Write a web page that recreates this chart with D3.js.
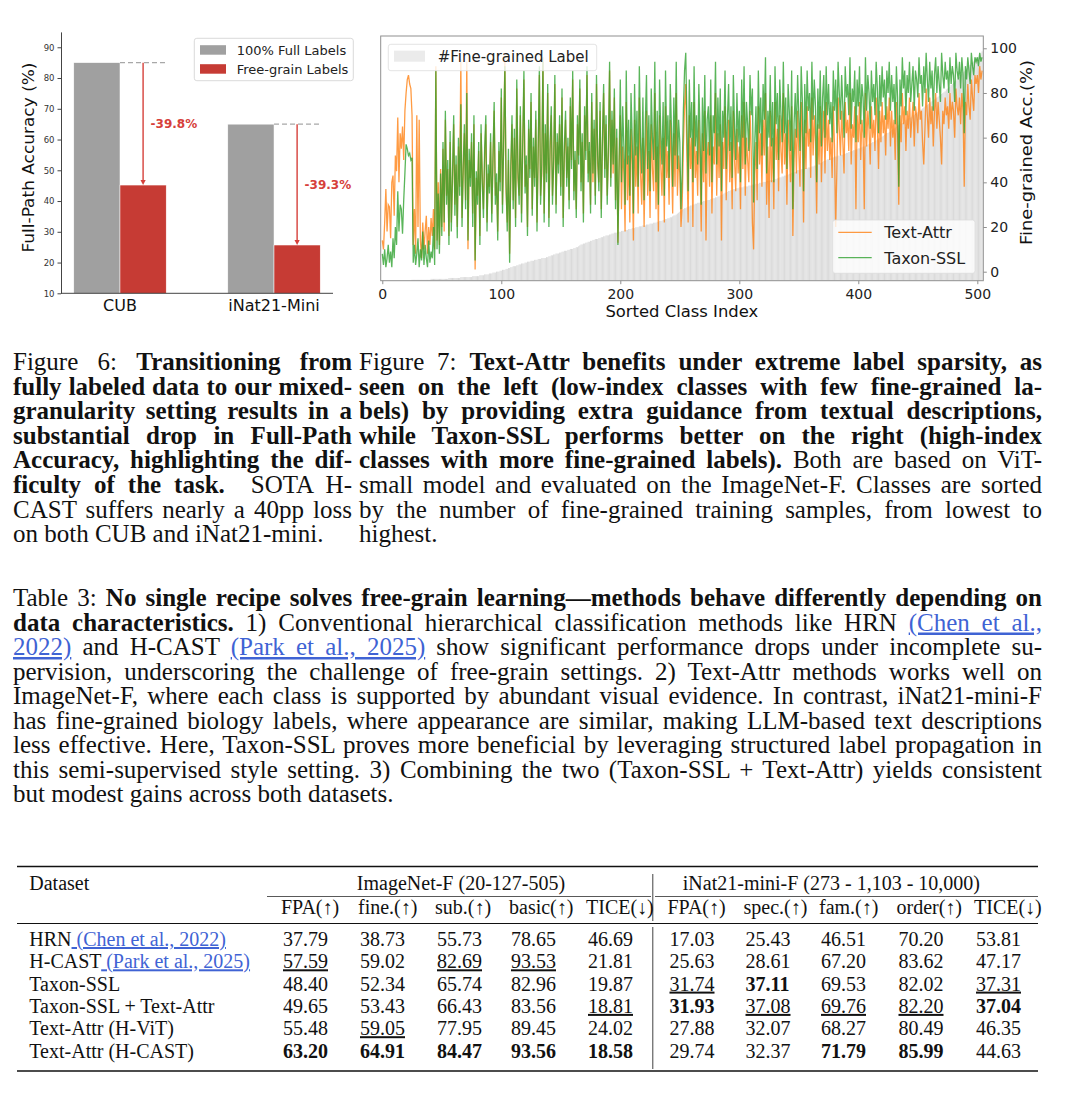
<!DOCTYPE html>
<html>
<head>
<meta charset="utf-8">
<script src="https://cdn.jsdelivr.net/npm/d3@7"></script>
<style>
  body { margin: 0; background: #fff; }
  .sans { font-family: "DejaVu Sans", sans-serif; }
  .serif { font-family: "Liberation Serif", "Times New Roman", serif; }
</style>
</head>
<body>
<svg id="page" width="1080" height="1113"></svg>
<script>
// ---- Figure 6 data ----
const datasets = ['CUB', 'iNat21-Mini'];
const fullLabels = [85.0, 65.0];
const freeGrain = [45.2, 25.7];
const dropLabels = ['-39.8%', '-39.3%'];
const accTicks6 = [10, 20, 30, 40, 50, 60, 70, 80, 90];

// ---- Figure 7 data (505 ImageNet-F fine classes, sorted by #fine labels) ----
const textAttr = [
  14,10,22,37,18,30,29,15,40,43,25,52,45,69,40,62,55,65,50,72,80,86,88,84,82,
  70,12,28,8,70,20,68,14,6,22,10,18,25,8,20,12,24,16,28,10,92,14,40,12,46,
  20,55,18,68,34,46,16,58,22,40,66,30,48,20,56,38,95,24,44,62,32,94,10,50,42,
  58,26,66,1,42,34,54,16,62,44,28,50,66,22,44,38,58,26,48,72,34,40,18,54,40,
  78,30,56,96,36,22,50,8,44,66,32,60,24,82,42,34,70,26,54,86,38,48,20,64,46,
  76,28,56,42,68,22,52,88,34,44,96,26,62,44,80,24,54,70,34,46,84,30,58,48,66,
  38,78,24,52,68,42,56,32,74,50,86,36,50,28,66,52,82,40,58,26,70,54,88,44,54,
  30,76,40,64,34,84,48,40,72,28,56,80,46,66,34,52,90,42,68,44,78,32,60,13,46,
  70,28,56,44,18,76,32,52,22,64,48,14,68,38,56,26,78,44,30,60,20,50,72,34,54,
  24,66,46,36,80,28,56,18,70,48,34,60,22,74,42,54,30,68,50,26,62,38,80,34,52,
  44,20,30,56,74,84,50,22,70,46,60,20,76,42,54,34,68,48,18,62,40,72,14,52,58,
  38,70,26,56,48,80,34,62,42,66,14,58,46,74,32,52,68,40,58,28,72,50,36,64,44,
  56,28,70,46,76,34,60,50,40,72,54,22,10,44,58,32,74,48,62,38,68,52,80,30,56,
  24,72,40,60,28,76,50,64,36,70,54,44,80,48,62,30,68,56,40,74,16,50,64,44,72,
  54,38,76,60,22,68,46,74,56,64,42,78,52,70,58,26,66,48,74,40,62,72,44,76,54,
  68,50,60,42,74,56,20,46,78,64,52,72,58,44,76,62,68,54,80,48,66,60,74,28,70,
  58,76,50,68,62,28,80,56,72,64,48,74,60,68,54,78,66,46,72,58,76,62,70,52,74,
  64,78,56,72,60,68,50,76,62,30,70,58,80,66,74,54,72,64,78,60,68,76,56,74,70,
  62,80,68,72,58,48,64,82,70,60,78,66,74,56,72,80,64,76,68,60,48,72,66,78,70,
  74,64,80,68,76,72,60,82,74,70,78,66,80,72,38,76,70,84,74,68,86,78,72,88,84,
  88,80,92,86,90
];
const taxonSSL = [
  8,3,10,2,6,12,4,9,2,15,6,20,12,36,18,30,28,17,32,44,57,55,52,53,50,
  51,4,12,3,8,15,2,10,5,18,3,12,6,2,14,4,9,6,20,3,90,10,35,8,44,
  16,58,22,72,30,50,12,63,18,44,70,25,52,15,60,34,75,20,48,66,28,80,14,55,38,
  62,20,70,5,45,30,58,12,66,40,24,55,70,18,48,35,62,22,52,76,30,44,14,58,36,
  82,26,60,92,40,18,55,4,48,70,28,64,20,86,45,30,74,22,58,90,35,52,16,68,42,
  80,25,60,38,72,18,56,92,30,48,94,22,66,40,84,20,58,74,30,50,88,26,62,44,70,
  34,82,20,56,72,38,60,28,78,46,90,32,54,24,70,48,86,36,62,22,74,50,92,40,58,
  26,80,44,68,30,88,52,36,76,24,60,84,42,70,30,56,94,38,72,48,82,28,64,12,50,
  86,40,74,56,30,90,48,68,34,80,60,26,84,52,72,38,92,58,44,78,32,66,88,46,70,
  36,82,60,50,94,40,72,30,86,62,48,76,34,90,56,70,42,84,64,38,78,52,94,46,68,
  58,28,44,72,90,98,66,36,86,60,76,40,92,56,70,48,84,62,30,78,54,88,44,68,74,
  52,86,40,70,62,94,48,78,56,82,36,72,60,90,46,68,84,54,74,42,88,64,50,80,58,
  72,40,86,60,92,48,76,66,54,88,70,82,31,58,74,46,90,62,78,52,84,68,96,44,72,
  60,88,56,76,40,92,66,80,50,86,70,58,94,62,78,46,84,72,54,90,28,66,80,60,88,
  70,54,92,76,36,84,62,90,72,80,58,94,68,86,74,40,82,64,90,56,78,88,60,92,70,
  84,66,76,58,90,72,86,62,94,80,68,88,74,60,92,78,84,70,96,64,82,76,90,58,86,
  74,92,66,84,78,60,96,72,88,80,64,90,76,84,70,94,82,62,88,74,92,78,86,68,90,
  80,94,72,88,76,84,66,92,78,38,86,74,96,82,90,70,88,80,94,76,84,92,72,90,86,
  78,96,84,88,74,92,80,98,86,76,94,82,90,72,88,96,80,92,84,76,98,88,82,94,86,
  90,80,96,84,92,88,76,98,90,86,94,82,96,88,62,92,86,96,90,84,98,92,88,96,94,
  96,92,98,94,96
];
const fineCounts = [
  0,0,0,0,0,0,0,0,0,0,0,0,0,0,0,0,0,0,0,0,0,0,0,0,0,
  1,1,1,1,1,1,1,1,1,1,1,1,1,1,1,1,2,2,2,2,2,2,2,2,2,
  2,2,2,2,2,2,3,3,3,3,3,3,3,3,3,3,4,4,4,4,4,4,4,4,4,
  4,5,5,5,5,5,5,6,6,6,6,7,7,7,7,8,8,8,9,9,9,10,10,10,11,
  11,12,12,12,13,13,14,14,15,15,16,16,16,17,17,18,18,19,19,19,20,20,21,21,21,
  22,22,22,23,23,23,24,24,24,25,25,25,25,26,26,27,27,28,28,29,29,30,30,30,31,
  31,32,32,33,33,33,34,34,35,35,35,36,36,37,37,38,39,40,40,41,41,42,42,43,43,
  44,44,45,45,46,46,46,47,47,48,48,49,49,50,50,50,51,51,52,52,53,53,53,54,54,
  54,55,55,55,56,56,56,57,57,57,58,58,58,59,59,59,60,60,60,61,61,61,62,62,62,
  63,63,63,64,64,64,65,65,66,66,66,67,67,68,68,69,69,70,70,71,72,72,73,74,75,
  76,77,78,79,80,80,81,82,82,83,83,84,84,85,85,86,86,86,87,87,88,88,88,89,89,
  89,90,90,91,91,92,92,93,93,94,95,95,96,97,97,98,99,99,100,100,101,101,102,102,102,
  103,103,103,103,104,104,104,104,105,105,105,106,106,106,107,107,107,108,108,108,109,109,109,110,110,
  110,111,111,111,112,112,112,113,113,114,114,115,115,116,116,117,117,118,118,119,119,120,120,121,122,
  122,122,123,123,123,124,124,124,125,125,125,126,126,127,127,128,128,129,130,130,131,132,132,133,134,
  134,135,135,136,136,137,137,137,138,138,139,139,139,140,140,141,141,142,142,143,143,144,144,145,145,
  146,146,147,147,148,148,149,149,150,151,151,152,153,153,154,155,156,157,157,158,159,160,161,162,163,
  163,164,165,166,167,168,169,170,171,172,173,173,174,175,176,177,178,179,180,180,181,182,183,184,185,
  186,187,188,189,190,191,192,193,194,195,196,197,198,199,200,201,202,203,204,205,206,207,208,209,211,
  212,213,214,216,217,218,220,221,222,224,225,227,228,230,231,232,234,235,236,238,239,241,242,244,245,
  246,247,249,251,253
];
const classTicks = [0, 100, 200, 300, 400, 500];
const accTicks7 = [0, 20, 40, 60, 80, 100];

// ---- Table 3 data ----
const groupNames = ['ImageNet-F (20-127-505)', 'iNat21-mini-F (273 - 1,103 - 10,000)'];
const metricNames = ['FPA(↑)', 'fine.(↑)', 'sub.(↑)', 'basic(↑)', 'TICE(↓)',
                     'FPA(↑)', 'spec.(↑)', 'fam.(↑)', 'order(↑)', 'TICE(↓)'];
const methodNames = [['HRN', ' (Chen et al., 2022)'], ['H-CAST', ' (Park et al., 2025)'],
                     ['Taxon-SSL', ''], ['Taxon-SSL + Text-Attr', ''],
                     ['Text-Attr (H-ViT)', ''], ['Text-Attr (H-CAST)', '']];
const tableValues = [
  [37.79, 38.73, 55.73, 78.65, 46.69, 17.03, 25.43, 46.51, 70.20, 53.81],
  [57.59, 59.02, 82.69, 93.53, 21.81, 25.63, 28.61, 67.20, 83.62, 47.17],
  [48.40, 52.34, 65.74, 82.96, 19.87, 31.74, 37.11, 69.53, 82.02, 37.31],
  [49.65, 53.43, 66.43, 83.56, 18.81, 31.93, 37.08, 69.76, 82.20, 37.04],
  [55.48, 59.05, 77.95, 89.45, 24.02, 27.88, 32.07, 68.27, 80.49, 46.35],
  [63.20, 64.91, 84.47, 93.56, 18.58, 29.74, 32.37, 71.79, 85.99, 44.63]
];
// b = best (bold), u = second best (underline)
const tableMarks = [
  ['', '', '', '', '', '', '', '', '', ''],
  ['u', '', 'u', 'u', '', '', '', '', '', ''],
  ['', '', '', '', '', 'u', 'b', '', '', 'u'],
  ['', '', '', '', 'u', 'b', 'u', 'u', 'u', 'b'],
  ['', 'u', '', '', '', '', '', '', '', ''],
  ['b', 'b', 'b', 'b', 'b', '', '', 'b', 'b', '']
];

// ---- captions ----
const fig6Caption = [
  [['Figure 6: ', 'r'], ['Transitioning from', 'b']],
  [['fully labeled data to our mixed-', 'b']],
  [['granularity setting results in a', 'b']],
  [['substantial drop in Full-Path', 'b']],
  [['Accuracy, highlighting the dif-', 'b']],
  [['ficulty of the task.', 'b'], ['  SOTA H-', 'r']],
  [['CAST suffers nearly a 40pp loss', 'r']],
  [['on both CUB and iNat21-mini.', 'r']]
];
const fig7Caption = [
  [['Figure 7: ', 'r'], ['Text-Attr benefits under extreme label sparsity, as', 'b']],
  [['seen on the left (low-index classes with few fine-grained la-', 'b']],
  [['bels) by providing extra guidance from textual descriptions,', 'b']],
  [['while Taxon-SSL performs better on the right (high-index', 'b']],
  [['classes with more fine-grained labels).', 'b'], [' Both are based on ViT-', 'r']],
  [['small model and evaluated on the ImageNet-F. Classes are sorted', 'r']],
  [['by the number of fine-grained training samples, from lowest to', 'r']],
  [['highest.', 'r']]
];
const table3Caption = [
  [['Table 3: ', 'r'], ['No single recipe solves free-grain learning—methods behave differently depending on', 'b']],
  [['data characteristics.', 'b'], [' 1) Conventional hierarchical classification methods like HRN ', 'r'], ['(Chen et al.,', 'l']],
  [['2022)', 'l'], [' and H-CAST ', 'r'], ['(Park et al., 2025)', 'l'], [' show significant performance drops under incomplete su-', 'r']],
  [['pervision, underscoring the challenge of free-grain settings. 2) Text-Attr methods works well on', 'r']],
  [['ImageNet-F, where each class is supported by abundant visual evidence. In contrast, iNat21-mini-F', 'r']],
  [['has fine-grained biology labels, where appearance are similar, making LLM-based text descriptions', 'r']],
  [['less effective. Here, Taxon-SSL proves more beneficial by leveraging structured label propagation in', 'r']],
  [['this semi-supervised style setting. 3) Combining the two (Taxon-SSL + Text-Attr) yields consistent', 'r']],
  [['but modest gains across both datasets.', 'r']]
];

const LINK = '#3f63d4';
const svg = d3.select('#page');

// =================== Figure 6: bar chart ===================
const L = {left: 61, right: 333, top: 31.9, bottom: 293.3};
const xb = d3.scaleLinear().domain([-0.383, 1.383]).range([L.left, L.right]);
const yb = d3.scaleLinear().domain([10, 95]).range([L.bottom, L.top]);
const bw = 0.3;
const f6 = svg.append('g').attr('class', 'sans');

f6.selectAll('.full').data(fullLabels).join('rect')
  .attr('class', 'full')
  .attr('x', (d, i) => xb(i - bw)).attr('width', xb(bw) - xb(0))
  .attr('y', d => yb(d)).attr('height', d => yb(10) - yb(d))
  .attr('fill', '#a0a0a0').attr('stroke', '#fff').attr('stroke-width', 0.5);
f6.selectAll('.free').data(freeGrain).join('rect')
  .attr('class', 'free')
  .attr('x', (d, i) => xb(i)).attr('width', xb(bw) - xb(0))
  .attr('y', d => yb(d)).attr('height', d => yb(10) - yb(d))
  .attr('fill', '#c63b34').attr('stroke', '#fff').attr('stroke-width', 0.5);

// dashed reference at the full-label level
f6.selectAll('.ref').data(fullLabels).join('line')
  .attr('x1', (d, i) => xb(i)).attr('x2', (d, i) => xb(i + bw))
  .attr('y1', d => yb(d)).attr('y2', d => yb(d))
  .attr('stroke', '#a8a8a8').attr('stroke-width', 1.3).attr('stroke-dasharray', '5,3');

// drop arrows
const arrowX = i => xb(i + bw / 2);
f6.selectAll('.arr').data(fullLabels).join('line')
  .attr('x1', (d, i) => arrowX(i)).attr('x2', (d, i) => arrowX(i))
  .attr('y1', d => yb(d)).attr('y2', (d, i) => yb(freeGrain[i]) - 4)
  .attr('stroke', '#d6403a').attr('stroke-width', 1.4);
f6.selectAll('.head').data(freeGrain).join('path')
  .attr('d', (d, i) => {
    const x = arrowX(i), y = yb(d);
    return `M${x - 2.6},${y - 5}L${x + 2.6},${y - 5}L${x},${y}Z`;
  })
  .attr('fill', '#d6403a');
f6.selectAll('.drop').data(dropLabels).join('text')
  .attr('x', (d, i) => arrowX(i) + 7.5)
  .attr('y', (d, i) => (yb(fullLabels[i]) + yb(freeGrain[i])) / 2)
  .attr('dy', '0.36em')
  .attr('fill', '#d6403a').attr('font-weight', 'bold').attr('font-size', 12)
  .text(d => d);

// axes
const yAxis6 = f6.append('g').attr('transform', `translate(${L.left},0)`)
  .call(d3.axisLeft(yb).tickValues(accTicks6).tickSize(3.5).tickSizeOuter(0).tickPadding(3));
yAxis6.select('.domain').attr('stroke', '#444');
yAxis6.selectAll('.tick line').attr('stroke', '#444');
yAxis6.selectAll('.tick text').attr('font-size', 8.5).attr('fill', '#333')
  .attr('font-family', '"DejaVu Sans", sans-serif');
f6.append('line').attr('x1', L.left).attr('x2', L.right)
  .attr('y1', L.bottom).attr('y2', L.bottom).attr('stroke', '#444');
f6.selectAll('.xcat').data(datasets).join('text')
  .attr('x', (d, i) => xb(i)).attr('y', 311)
  .attr('text-anchor', 'middle').attr('font-size', 16).attr('fill', '#111')
  .text(d => d);
f6.append('text')
  .attr('transform', 'translate(34,157.5) rotate(-90)')
  .attr('text-anchor', 'middle').attr('font-size', 15).attr('fill', '#111')
  .attr('textLength', 190).attr('lengthAdjust', 'spacingAndGlyphs')
  .text('Full-Path Accuracy (%)');

// legend
const lg6 = f6.append('g');
lg6.append('rect').attr('x', 194.3).attr('y', 38.3).attr('width', 159).attr('height', 42.4)
  .attr('rx', 2.5).attr('fill', '#fff').attr('stroke', '#d0d0d0').attr('stroke-width', 0.8);
const lg6Items = [{name: '100% Full Labels', color: '#a0a0a0'}, {name: 'Free-grain Labels', color: '#c63b34'}];
lg6.selectAll('.lp').data(lg6Items).join('rect')
  .attr('x', 200).attr('y', (d, i) => 45.2 + i * 19).attr('width', 26).attr('height', 9.5)
  .attr('fill', d => d.color);
lg6.selectAll('.lt').data(lg6Items).join('text')
  .attr('x', 236.7).attr('y', (d, i) => 54.6 + i * 19)
  .attr('font-size', 13).attr('fill', '#222').text(d => d.name);

// =================== Figure 7: line chart ===================
const P = {left: 380.7, right: 983.3, top: 36, bottom: 280.7};
const xs = d3.scaleLinear().domain([-1.34, 505.03]).range([P.left, P.right]);
const ys = d3.scaleLinear().domain([-4.03, 105.5]).range([P.bottom, P.top]);
const yc = d3.scaleLinear().domain([0, 270]).range([P.bottom, P.top]);
const f7 = svg.append('g').attr('class', 'sans');
f7.append('clipPath').attr('id', 'plot7').append('rect')
  .attr('x', P.left).attr('y', P.top).attr('width', P.right - P.left).attr('height', P.bottom - P.top);
const inner = f7.append('g').attr('clip-path', 'url(#plot7)');

inner.selectAll('.cnt').data(fineCounts).join('rect')
  .attr('x', (d, i) => xs(i - 0.42)).attr('width', xs(0.84) - xs(0))
  .attr('y', d => yc(d)).attr('height', d => P.bottom - yc(d))
  .attr('fill', '#d3d3d3').attr('opacity', 0.85);

const line7 = d3.line().x((d, i) => xs(i)).y(d => ys(d));
inner.append('path').datum(textAttr).attr('d', line7)
  .attr('fill', 'none').attr('stroke', '#ff7f0e').attr('stroke-width', 1.3).attr('opacity', 0.78);
inner.append('path').datum(taxonSSL).attr('d', line7)
  .attr('fill', 'none').attr('stroke', '#2ca02c').attr('stroke-width', 1.3).attr('opacity', 0.78);

f7.append('rect').attr('x', P.left).attr('y', P.top)
  .attr('width', P.right - P.left).attr('height', P.bottom - P.top)
  .attr('fill', 'none').attr('stroke', '#8f8f8f').attr('stroke-width', 1);

const xAxis7 = f7.append('g').attr('transform', `translate(0,${P.bottom})`)
  .call(d3.axisBottom(xs).tickValues(classTicks).tickSize(3.5).tickSizeOuter(0));
xAxis7.select('.domain').remove();
xAxis7.selectAll('.tick line').attr('stroke', '#8f8f8f');
xAxis7.selectAll('.tick text').attr('font-size', 14).attr('fill', '#222')
  .attr('font-family', '"DejaVu Sans", sans-serif').attr('dy', null).attr('y', 18.6);

const yAxis7 = f7.append('g').attr('transform', `translate(${P.right},0)`)
  .call(d3.axisRight(ys).tickValues(accTicks7).tickSize(3.5).tickSizeOuter(0).tickPadding(3.5));
yAxis7.select('.domain').remove();
yAxis7.selectAll('.tick line').attr('stroke', '#8f8f8f');
yAxis7.selectAll('.tick text').attr('font-size', 14).attr('fill', '#222')
  .attr('font-family', '"DejaVu Sans", sans-serif');

f7.append('text').attr('x', 681.8).attr('y', 317)
  .attr('text-anchor', 'middle').attr('font-size', 16.4).attr('fill', '#111')
  .text('Sorted Class Index');
f7.append('text')
  .attr('transform', 'translate(1032,152.5) rotate(-90)')
  .attr('text-anchor', 'middle').attr('font-size', 15).attr('fill', '#111')
  .attr('textLength', 185).attr('lengthAdjust', 'spacingAndGlyphs')
  .text('Fine-grained Acc.(%)');

// legends
f7.append('rect').attr('x', 388.3).attr('y', 44.3).attr('width', 208.4).attr('height', 26.4)
  .attr('rx', 2.5).attr('fill', '#fff').attr('fill-opacity', 0.8).attr('stroke', '#dcdcdc').attr('stroke-width', 0.8);
f7.append('rect').attr('x', 394).attr('y', 50.7).attr('width', 31).attr('height', 11)
  .attr('fill', '#d3d3d3').attr('opacity', 0.45);
f7.append('text').attr('x', 437.7).attr('y', 61.6).attr('font-size', 15).attr('fill', '#222')
  .text('#Fine-grained Label');

const lg7Items = [{name: 'Text-Attr', color: '#ff7f0e'}, {name: 'Taxon-SSL', color: '#2ca02c'}];
f7.append('rect').attr('x', 832.7).attr('y', 220).attr('width', 142.3).attr('height', 53.3)
  .attr('rx', 2.5).attr('fill', '#fff').attr('fill-opacity', 0.8).attr('stroke', '#dcdcdc').attr('stroke-width', 0.8);
f7.selectAll('.l7').data(lg7Items).join('line')
  .attr('x1', 838.3).attr('x2', 871.7)
  .attr('y1', (d, i) => 232.3 + i * 25.4).attr('y2', (d, i) => 232.3 + i * 25.4)
  .attr('stroke', d => d.color).attr('stroke-width', 1.3).attr('opacity', 0.78);
f7.selectAll('.t7').data(lg7Items).join('text')
  .attr('x', 884.3).attr('y', (d, i) => 238.1 + i * 25.4)
  .attr('font-size', 16).attr('fill', '#222').text(d => d.name);

// =================== captions ===================
function captionLine(x, y, width, segs, justify, size) {
  const t = svg.append('text').attr('class', 'serif').attr('x', x).attr('y', y)
    .attr('font-size', size).attr('fill', '#111').style('white-space', 'pre');
  segs.forEach(([s, k]) => {
    const sp = t.append('tspan').text(s);
    if (k === 'b') sp.attr('font-weight', 'bold');
    if (k === 'l') sp.attr('fill', LINK).style('text-decoration', 'underline');
  });
  if (justify) {
    const w = t.node().getComputedTextLength();
    const n = (t.text().match(/ /g) || []).length;
    if (w < width && n > 0) t.style('word-spacing', ((width - w) / n) + 'px');
    else if (w > width) t.attr('textLength', width).attr('lengthAdjust', 'spacingAndGlyphs');
  }
}
const capSize = 25;
fig6Caption.forEach((segs, i) =>
  captionLine(13, 370 + i * 24.6, 339, segs, i < fig6Caption.length - 1, capSize));
fig7Caption.forEach((segs, i) =>
  captionLine(359, 370 + i * 24.6, 683, segs, i < fig7Caption.length - 1, capSize));
table3Caption.forEach((segs, i) =>
  captionLine(13, 606 + i * 24.5, 1029, segs, i < table3Caption.length - 1, capSize));

// =================== Table 3 ===================
const tb = svg.append('g').attr('class', 'serif').attr('font-size', 20).attr('fill', '#111');
const colX = [283, 360, 437, 511, 588, 669.5, 745.5, 821, 898.5, 976];
const rowY = d3.range(methodNames.length).map(i => 946 + i * 22.3);
const fmt = d3.format('.2f');

tb.append('line').attr('x1', 17).attr('x2', 1038).attr('y1', 866.5).attr('y2', 866.5)
  .attr('stroke', '#111').attr('stroke-width', 1.6);
tb.append('line').attr('x1', 17).attr('x2', 1038).attr('y1', 923.5).attr('y2', 923.5)
  .attr('stroke', '#111').attr('stroke-width', 1);
tb.append('line').attr('x1', 17).attr('x2', 1038).attr('y1', 1071).attr('y2', 1071)
  .attr('stroke', '#111').attr('stroke-width', 1.6);
tb.append('line').attr('x1', 267).attr('x2', 651).attr('y1', 896.5).attr('y2', 896.5)
  .attr('stroke', '#111').attr('stroke-width', 0.7);
tb.append('line').attr('x1', 655).attr('x2', 1038).attr('y1', 896.5).attr('y2', 896.5)
  .attr('stroke', '#111').attr('stroke-width', 0.7);
[[874, 921], [927, 1069]].forEach(([a, b]) =>
  tb.append('line').attr('x1', 652.8).attr('x2', 652.8).attr('y1', a).attr('y2', b)
    .attr('stroke', '#111').attr('stroke-width', 0.8));

tb.append('text').attr('x', 29.3).attr('y', 889.5).text('Dataset');
tb.selectAll('.grp').data(groupNames).join('text')
  .attr('x', (d, i) => i === 0 ? 461 : 831.4).attr('y', 889.5)
  .attr('text-anchor', 'middle').text(d => d);
tb.selectAll('.met').data(metricNames).join('text')
  .attr('x', (d, i) => colX[i] - 2).attr('y', 914).text(d => d);

const rows = tb.selectAll('.row').data(tableValues).join('g')
  .attr('transform', (d, i) => `translate(0,${rowY[i]})`);
rows.append('text').attr('x', 29.3).attr('y', 0).style('white-space', 'pre')
  .each(function (d, i) {
    const t = d3.select(this);
    t.append('tspan').text(methodNames[i][0]);
    if (methodNames[i][1]) t.append('tspan').text(methodNames[i][1])
      .attr('fill', LINK).style('text-decoration', 'underline');
  });
rows.each(function (vals, r) {
  d3.select(this).selectAll('.v').data(vals).join('text')
    .attr('x', (d, c) => colX[c]).attr('y', 0)
    .attr('font-weight', (d, c) => tableMarks[r][c] === 'b' ? 'bold' : null)
    .style('text-decoration', (d, c) => tableMarks[r][c] === 'u' ? 'underline' : null)
    .text(d => fmt(d));
});
</script>
</body>
</html>
